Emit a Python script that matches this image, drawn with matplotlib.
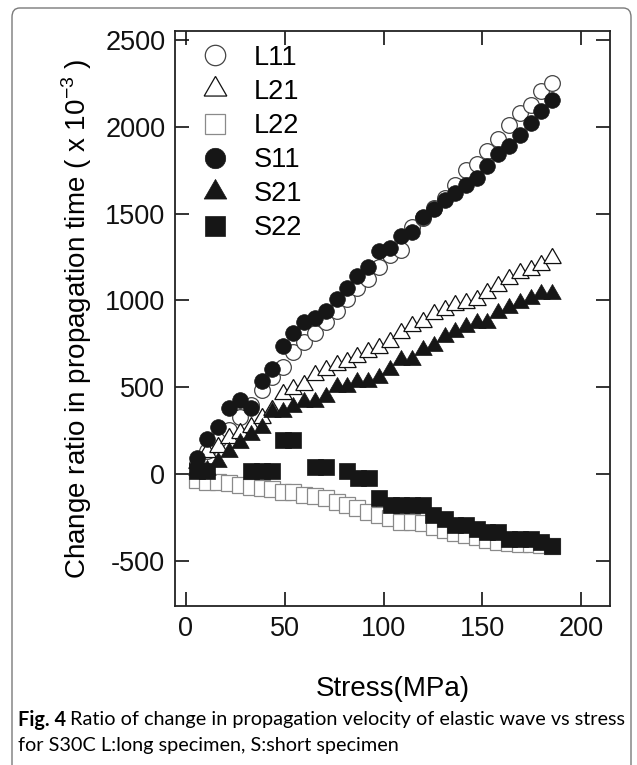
import matplotlib
matplotlib.use("Agg")
import matplotlib.pyplot as plt
from matplotlib.patches import FancyBboxPatch

plt.rcParams['font.family'] = ['Liberation Sans', 'DejaVu Sans']
plt.rcParams['axes.unicode_minus'] = False

# stress (MPa) shared by L11, L21, L22, S11, S21
stress = [5.4, 10.8, 16.3, 21.9, 27.3, 32.9, 38.3, 43.6, 49.2, 54.2,
          59.8, 65.2, 70.8, 76.2, 81.5, 86.8, 92.2, 97.7, 103.1, 108.8,
          114.4, 120.0, 125.4, 131.0, 136.3, 141.9, 147.3, 152.5, 157.9, 163.5,
          168.9, 174.3, 179.8, 185.2]

L11 = [60, 135, 196, 253, 330, 400, 484, 560, 618, 705,
       762, 810, 877, 939, 1008, 1073, 1123, 1194, 1262, 1290,
       1425, 1473, 1530, 1588, 1665, 1751, 1785, 1862, 1930, 2010,
       2078, 2126, 2206, 2252]
L21 = [62, 128, 157, 205, 234, 272, 321, 369, 459, 488,
       513, 570, 599, 628, 647, 676, 705, 724, 762, 814,
       853, 877, 922, 945, 973, 987, 1002, 1041, 1083, 1121,
       1160, 1175, 1204, 1242]
L22 = [-35, -44, -44, -50, -63, -73, -82, -85, -102, -105,
       -121, -125, -140, -160, -179, -198, -217, -236, -255, -275,
       -275, -280, -304, -323, -342, -351, -361, -380, -390, -395,
       -400, -405, -410, -415]
S11 = [90, 201, 269, 378, 426, 378, 538, 605, 740, 810,
       874, 900, 939, 1008, 1073, 1142, 1190, 1285, 1300, 1373,
       1396, 1482, 1527, 1578, 1620, 1665, 1707, 1774, 1842, 1889,
       1953, 2024, 2091, 2154]
S21 = [23, 23, 71, 128, 177, 225, 263, 359, 359, 388,
       417, 417, 445, 503, 503, 532, 532, 551, 599, 657,
       657, 714, 737, 791, 820, 845, 868, 871, 925, 954,
       983, 1006, 1035, 1035]

# S22 has a few missing readings
stress_s22 = [5.4, 10.8, 32.9, 38.3, 43.6, 49.2, 54.2, 65.1, 70.8, 81.6,
              87.3, 92.6, 97.9, 103.5, 109.0, 114.4, 120.0, 125.2, 130.9, 136.3,
              141.9, 147.3, 152.5, 157.9, 163.5, 168.9, 174.3, 179.8, 185.2]
S22 = [20, 20, 19, 19, 19, 194, 194, 38, 38, 18,
       -20, -20, -138, -180, -180, -180, -180, -234, -257, -296,
       -296, -315, -334, -334, -373, -373, -373, -394, -412]

fig = plt.figure(figsize=(6.37, 7.65), dpi=100)
ax = fig.add_axes([0.2747, 0.2078, 0.6829, 0.7517])

blk = '#161616'
tri = (3, 0, 0)
ax.plot(stress, L11, 'o', ls='none', ms=11.3, mfc='white', mec='#444444', mew=0.9, label='L11')
ax.plot(stress, L21, marker=tri, ls='none', ms=14.5, mfc='white', mec='#111111', mew=0.9, label='L21')
ax.plot(stress, L22, 's', ls='none', ms=11.5, mfc='white', mec='#8a8a8a', mew=0.9, label='L22')
ax.plot(stress, S11, 'o', ls='none', ms=11.3, mfc=blk, mec=blk, mew=0.5, label='S11')
ax.plot(stress, S21, marker=tri, ls='none', ms=14.5, mfc=blk, mec=blk, mew=0.5, label='S21')
ax.plot(stress_s22, S22, 's', ls='none', ms=11.5, mfc=blk, mec=blk, mew=0.5, label='S22')

ax.set_xlim(-5.5, 214.5)
ax.set_ylim(-760, 2552)
ax.set_xticks([0, 50, 100, 150, 200])
ax.set_yticks([-500, 0, 500, 1000, 1500, 2000, 2500])
ax.tick_params(direction='in', top=True, right=True, length=10, width=1.2,
               labelsize=19.5, pad=7, colors='#111111')
for s in ax.spines.values():
    s.set_linewidth(1.3)
    s.set_color('#222222')

ax.set_xlabel('Stress(MPa)', fontsize=20, labelpad=25)
ax.set_ylabel(r'Change ratio in propagation time ( x 10$^{\mathregular{-3}}$ )',
              fontsize=20, labelpad=8)

ax.legend(loc='upper left', bbox_to_anchor=(0.061, 0.976), frameon=False,
          fontsize=19.5, borderpad=0, borderaxespad=0, handlelength=1.0,
          handletextpad=0.92, labelspacing=0.3, markerscale=1.3)

# rounded figure frame, open at the bottom
frame = FancyBboxPatch((12 / 637, -0.2), 619 / 637, 1.2 - 8 / 765,
                       boxstyle='round,pad=0,rounding_size=0.012',
                       transform=fig.transFigure, fill=False,
                       ec='#7a7a7a', lw=1.0, clip_on=False)
fig.patches.append(frame)

cap_font = ['Lato', 'DejaVu Sans']
fig.canvas.draw()
t1 = fig.text(18 / 637, 1 - 720 / 765, 'Fig. 4', fontsize=14.3, fontweight='bold',
              family=cap_font, va='center', ha='left')
r = fig.canvas.get_renderer()
bb = t1.get_window_extent(r)
fig.text((bb.x1 + 4) / 637, 1 - 720 / 765,
         'Ratio of change in propagation velocity of elastic wave vs stress',
         fontsize=14.3, family=cap_font, va='center', ha='left')
fig.text(18 / 637, 1 - 746 / 765, 'for S30C L:long specimen, S:short specimen',
         fontsize=14.3, family=cap_font, va='center', ha='left')

fig.savefig('out.png', dpi=100)
